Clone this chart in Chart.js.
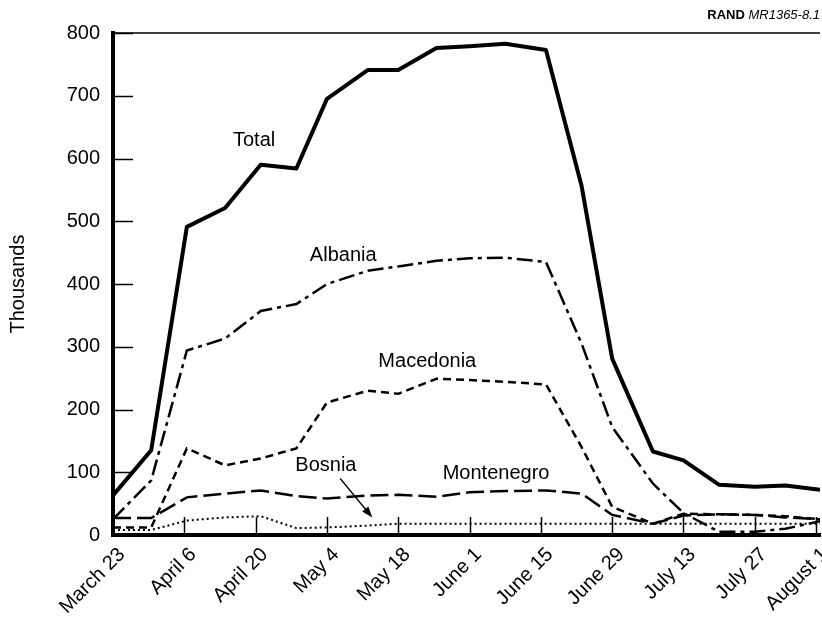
<!DOCTYPE html>
<html>
<head>
<meta charset="utf-8">
<script src="https://cdn.jsdelivr.net/npm/chart.js@4.4.1/dist/chart.umd.min.js"></script>
<style>
  html, body { margin: 0; padding: 0; background: #fff; }
  #wrap { width: 822px; height: 622px; position: relative; }
</style>
</head>
<body>
<div id="wrap"><canvas id="refugeeChart"></canvas></div>
<script>
// days after March 23 for each observation
const pointDays = [0, 7.5, 14.5, 22, 29, 36, 42, 50, 56, 63.5, 70, 77, 85, 92, 98, 106, 112, 119, 126, 132, 138.8];

const tickDays = [0, 14, 28, 42, 56, 70, 84, 98, 112, 126, 138];
const tickLabels = ["March 23", "April 6", "April 20", "May 4", "May 18", "June 1",
                    "June 15", "June 29", "July 13", "July 27", "August 1"];

// thousands of refugees
const totalValues      = [63, 135, 491, 521, 590, 584, 695, 741, 741, 776, 779, 783, 773, 556, 281, 133, 119, 80, 77, 79, 72];
const albaniaValues    = [25, 87, 294, 313, 357, 368, 400, 421, 428, 437, 441, 442, 435, 305, 172, 82, 35, 5, 5, 10, 22];
const macedoniaValues  = [12, 12, 138, 111, 122, 138, 211, 230, 225, 249, 247, 244, 240, 140, 45, 18, 34, 33, 32, 30, 25];
const montenegroValues = [27, 27, 60, 66, 71, 62, 58, 63, 64, 61, 68, 70, 71, 66, 32, 18, 31, 33, 32, 28, 25];
const bosniaValues     = [8, 8, 23, 28, 30, 11, 12, 15, 18, 18, 18, 18, 18, 18, 18, 18, 18, 18, 18, 18, 18];

const FONT = "'Liberation Sans', Arial, Helvetica, sans-serif";

// text labels placed in data space (day, thousands)
const notes = [
  { text: "Total", day: 27.7, value: 628 },
  { text: "Albania", day: 45.2, value: 445 },
  { text: "Macedonia", day: 61.7, value: 276 },
  { text: "Montenegro", day: 75.2, value: 98 },
  { text: "Bosnia", day: 41.8, value: 111 }
];

function toPoints(values) {
  return values.map((v, i) => ({ x: pointDays[i], y: v }));
}

/* inward ticks, top rule, series labels, arrow and caption */
const decorPlugin = {
  id: "decor",
  afterDatasetsDraw(chart) {
    const { ctx, chartArea: a, scales: { x, y } } = chart;
    ctx.save();
    ctx.strokeStyle = "#000";
    ctx.lineWidth = 1.5;

    ctx.beginPath();
    ctx.moveTo(a.left, a.top);
    ctx.lineTo(a.right, a.top);
    ctx.stroke();

    y.ticks.forEach(t => {
      const py = Math.round(y.getPixelForValue(t.value)) + 0.5;
      ctx.beginPath();
      ctx.moveTo(a.left, py);
      ctx.lineTo(a.left + 20, py);
      ctx.stroke();
    });
    x.ticks.forEach(t => {
      const px = Math.round(x.getPixelForValue(t.value)) + 0.5;
      ctx.beginPath();
      ctx.moveTo(px, a.bottom);
      ctx.lineTo(px, a.bottom - 18);
      ctx.stroke();
    });

    ctx.fillStyle = "#000";
    ctx.font = "20px " + FONT;
    ctx.textAlign = "center";
    ctx.textBaseline = "middle";
    notes.forEach(n => {
      ctx.fillText(n.text, x.getPixelForValue(n.day), y.getPixelForValue(n.value));
    });

    // Bosnia pointer
    const x1 = x.getPixelForValue(44.6), y1 = y.getPixelForValue(90);
    const x2 = x.getPixelForValue(50.9), y2 = y.getPixelForValue(28);
    const ang = Math.atan2(y2 - y1, x2 - x1);
    ctx.lineWidth = 1.3;
    ctx.beginPath();
    ctx.moveTo(x1, y1);
    ctx.lineTo(x2 - 8 * Math.cos(ang), y2 - 8 * Math.sin(ang));
    ctx.stroke();
    ctx.beginPath();
    ctx.moveTo(x2, y2);
    ctx.lineTo(x2 - 11 * Math.cos(ang) + 4 * Math.sin(ang), y2 - 11 * Math.sin(ang) - 4 * Math.cos(ang));
    ctx.lineTo(x2 - 11 * Math.cos(ang) - 4 * Math.sin(ang), y2 - 11 * Math.sin(ang) + 4 * Math.cos(ang));
    ctx.closePath();
    ctx.fill();

    // caption
    ctx.textAlign = "right";
    ctx.textBaseline = "middle";
    ctx.font = "italic 13px " + FONT;
    const tag = "MR1365-8.1";
    const w = ctx.measureText(tag).width;
    ctx.fillText(tag, 820, 15);
    ctx.font = "bold 13px " + FONT;
    ctx.fillText("RAND ", 820 - w, 15);

    ctx.restore();
  }
};

Chart.defaults.font.family = FONT;
Chart.defaults.color = "#000";

new Chart(document.getElementById("refugeeChart"), {
  type: "line",
  data: {
    datasets: [
      { label: "Total", data: toPoints(totalValues), borderColor: "#000", borderWidth: 4,
        borderJoinStyle: "round" },
      { label: "Albania", data: toPoints(albaniaValues), borderColor: "#000", borderWidth: 2.5,
        borderDash: [16, 5, 4, 5] },
      { label: "Macedonia", data: toPoints(macedoniaValues), borderColor: "#000", borderWidth: 2.5,
        borderDash: [8, 5] },
      { label: "Montenegro", data: toPoints(montenegroValues), borderColor: "#000", borderWidth: 2.5,
        borderDash: [18, 6] },
      { label: "Bosnia", data: toPoints(bosniaValues), borderColor: "#000", borderWidth: 2,
        borderDash: [2, 3] }
    ]
  },
  options: {
    responsive: true,
    maintainAspectRatio: false,
    animation: false,
    layout: { padding: { top: 33, right: 2, left: 0, bottom: 0 } },
    elements: { point: { radius: 0 }, line: { tension: 0, fill: false } },
    plugins: {
      legend: { display: false },
      tooltip: { enabled: false }
    },
    scales: {
      x: {
        type: "linear",
        min: 0,
        max: 138.8,
        afterBuildTicks: scale => { scale.ticks = tickDays.map(v => ({ value: v })); },
        afterFit: scale => { scale.height = 87; scale.paddingLeft = 0; scale.paddingRight = 0; },
        grid: { drawOnChartArea: false, drawTicks: false },
        border: { display: true, color: "#000", width: 4 },
        ticks: {
          autoSkip: false,
          maxRotation: 45,
          minRotation: 45,
          padding: 8,
          labelOffset: 9,
          font: { size: 20 },
          callback: (value, index) => tickLabels[index]
        }
      },
      y: {
        min: 0,
        max: 800,
        afterFit: scale => { scale.width = 113; },
        grid: { drawOnChartArea: false, drawTicks: false },
        border: { display: true, color: "#000", width: 4 },
        ticks: { stepSize: 100, padding: 13, font: { size: 20 } },
        title: {
          display: true,
          text: "Thousands",
          font: { size: 20 },
          padding: { top: 6, bottom: 0 }
        }
      }
    }
  },
  plugins: [decorPlugin]
});
</script>
</body>
</html>
